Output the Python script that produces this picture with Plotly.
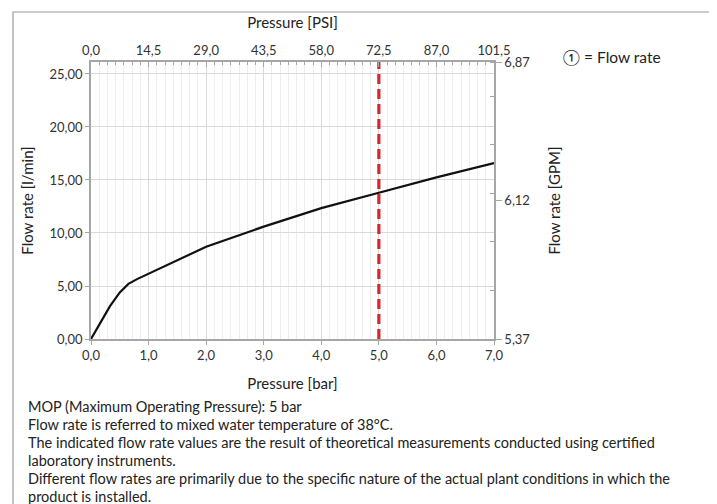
import plotly.graph_objects as go

# ---------------- data ----------------
pressure_bar = [0.0, 0.33, 0.5, 0.65, 0.8, 1.0, 2.0, 3.0, 4.0, 5.0, 6.0, 7.0]
flow_lmin = [0.0, 3.1, 4.4, 5.2, 5.65, 6.15, 8.7, 10.6, 12.35, 13.8, 15.25, 16.6]
mop_bar = 5.0
mop_y = [0.0, 26.13]

bar_ticks = [0.0, 1.0, 2.0, 3.0, 4.0, 5.0, 6.0, 7.0]
psi_ticks = [0.0, 14.5, 29.0, 43.5, 58.0, 72.5, 87.0, 101.5]
lmin_ticks = [0.0, 5.0, 10.0, 15.0, 20.0, 25.0]
gpm_ticks = [5.37, 6.12, 6.87]
gpm_minor = [5.37, 5.633, 5.896, 6.159, 6.422, 6.685, 6.87]

notes = [
    "MOP (Maximum Operating Pressure): 5 bar",
    "Flow rate is referred to mixed water temperature of 38°C.",
    "The indicated flow rate values are the result of theoretical measurements conducted using certified",
    "laboratory instruments.",
    "Different flow rates are primarily due to the specific nature of the actual plant conditions in which the",
    "product is installed.",
]

# ---------------- layout helpers ----------------
OFF = 8  # page body margin
W, H = 717 - OFF, 504 - OFF
L, R, T, B = 91, 494, 62, 339  # screenshot pixels of plot area
NOTE_TOP, NOTE_STEP = 406.5, 18.0


def px(x):
    return (x - L) / (R - L)


def py(y):
    return (B - y) / (B - T)


FONT = "Lato"
AX = "#a6a6a6"
GRID = "#d9d9d9"
MINOR = "#eeeeee"
TXT = "#222222"

fig = go.Figure()

fig.add_trace(go.Scatter(
    x=pressure_bar, y=flow_lmin, mode="lines",
    line=dict(color="#111111", width=2.2), name="Flow rate",
    showlegend=False, hoverinfo="skip",
))
fig.add_trace(go.Scatter(
    x=[mop_bar, mop_bar], y=mop_y, mode="lines",
    line=dict(color="#d8262e", width=3.2, dash="10px,5px"), name="MOP",
    showlegend=False, hoverinfo="skip",
))
# invisible traces to activate secondary axes
fig.add_trace(go.Scatter(x=[psi_ticks[0], psi_ticks[-1]], y=[0, 0], xaxis="x2", yaxis="y",
                         mode="markers", marker=dict(opacity=0), showlegend=False, hoverinfo="skip"))
fig.add_trace(go.Scatter(x=[0, 0], y=[gpm_ticks[0], gpm_ticks[-1]], xaxis="x", yaxis="y2",
                         mode="markers", marker=dict(opacity=0), showlegend=False, hoverinfo="skip"))

tickfont = dict(family=FONT, size=13, color="#333333")
titlefont = dict(family=FONT, size=15, color=TXT)

fig.update_layout(
    width=W, height=H, autosize=False,
    margin=dict(l=L - OFF, r=717 - R, t=T - OFF, b=504 - B, pad=0),
    paper_bgcolor="white", plot_bgcolor="white",
    separators=",.",
    font=dict(family=FONT, size=13, color=TXT),
    xaxis=dict(
        range=[0, 7], tickvals=bar_ticks, tickformat=".1f",
        showline=True, linecolor=AX, linewidth=1.5,
        ticks="outside", ticklen=4, tickcolor=AX,
        showgrid=True, gridcolor=GRID, gridwidth=1,
        minor=dict(dtick=1 / 7, showgrid=True, gridcolor=MINOR, gridwidth=1, ticks=""),
        zeroline=False, tickfont=tickfont,
        title=dict(text="Pressure [bar]", font=titlefont, standoff=16),
    ),
    xaxis2=dict(
        overlaying="x", side="top", range=[0, 101.5], tickvals=psi_ticks, tickformat=".1f",
        showline=True, linecolor=AX, linewidth=1.5,
        ticks="inside", ticklen=5, tickcolor=AX,
        minor=dict(dtick=14.5 / 7, ticks="inside", ticklen=3, tickcolor=AX, showgrid=False),
        showgrid=False, zeroline=False, tickfont=tickfont,
        title=dict(text="Pressure [PSI]", font=titlefont, standoff=10),
    ),
    yaxis=dict(
        range=[0, 26.13], tickvals=lmin_ticks, tickformat=".2f",
        showline=True, linecolor=AX, linewidth=1.5,
        ticks="outside", ticklen=4, tickcolor=AX,
        showgrid=True, gridcolor=GRID, gridwidth=1,
        zeroline=False, tickfont=tickfont,
        title=dict(text="Flow rate [l/min]", font=titlefont, standoff=12),
    ),
    yaxis2=dict(
        overlaying="y", side="right", range=[5.37, 6.87], tickvals=gpm_ticks, tickformat=".2f",
        showline=True, linecolor=AX, linewidth=1.5,
        ticks="outside", ticklen=6, tickcolor=AX,
        minor=dict(tickvals=gpm_minor, ticks="inside", ticklen=4, tickcolor=AX, showgrid=False),
        showgrid=False, zeroline=False, tickfont=tickfont,
        title=dict(text="Flow rate [GPM]", font=titlefont, standoff=20),
    ),
)

# outer frame
fig.add_shape(type="rect", xref="paper", yref="paper",
              x0=px(13), x1=px(712), y0=py(540), y1=py(12),
              line=dict(color="#9a9a9a", width=1.2), fillcolor="rgba(0,0,0,0)", layer="below")

# legend-like label
fig.add_annotation(xref="paper", yref="paper", x=px(561), y=py(57), xanchor="left", yanchor="middle",
                   text="\u2460 = Flow rate", showarrow=False,
                   font=dict(family=FONT, size=15.5, color=TXT))

# notes
for i, line in enumerate(notes):
    fig.add_annotation(xref="paper", yref="paper", x=px(26), y=py(NOTE_TOP + i * NOTE_STEP),
                       xanchor="left", yanchor="middle", text=line, showarrow=False,
                       align="left", font=dict(family=FONT, size=14.5, color=TXT))

fig.write_html("out.html")
